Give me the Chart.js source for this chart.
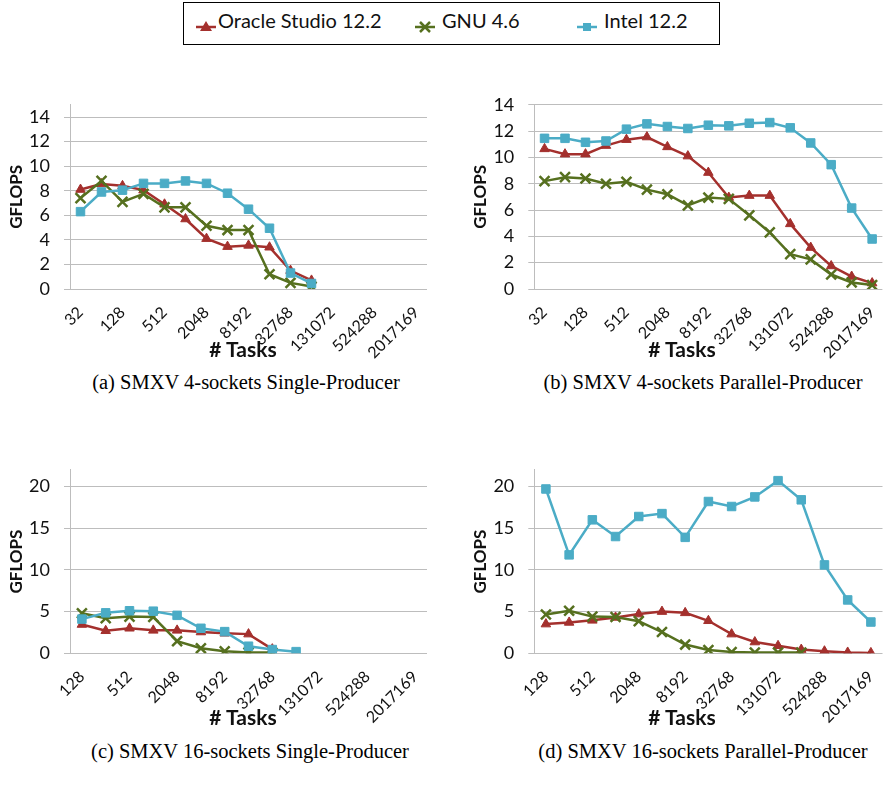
<!DOCTYPE html>
<html>
<head>
<meta charset="utf-8">
<script src="https://cdn.jsdelivr.net/npm/chart.js@4.4.1/dist/chart.umd.min.js"></script>
<style>
  html, body { margin: 0; padding: 0; background: #fff; }
  body { position: relative; width: 892px; height: 790px; overflow: hidden; font-family: Lato, sans-serif; }
  canvas { position: absolute; }
  .axt { position: absolute; font: bold 21px Lato, sans-serif; line-height: 24px; color: #111; transform: translateX(-50%); white-space: nowrap; }
  .cap { position: absolute; font: 20.5px "Liberation Serif", serif; line-height: 24px; color: #000; transform: translateX(-50%); white-space: nowrap; }
  #legend { position: absolute; left: 183px; top: 2px; width: 537px; height: 43px; box-sizing: border-box; border: 1.5px solid #000; }
  .li { position: absolute; top: 5px; height: 40px; line-height: 40px; font: 20px Lato, sans-serif; color: #111; white-space: nowrap; }
  .sw { position: absolute; top: 14px; }
</style>
</head>
<body>
<div id="legend">
  <svg class="sw" style="left:10px" width="24" height="20"><line x1="2" y1="10" x2="22" y2="10" stroke="#a4302d" stroke-width="2.5"/><polygon points="12,4 18,14 6,14" fill="#a4302d"/></svg>
  <div class="li" style="left:34px">Oracle Studio 12.2</div>
  <svg class="sw" style="left:229px" width="24" height="20"><line x1="2" y1="10" x2="22" y2="10" stroke="#56701f" stroke-width="2.5"/><line x1="7" y1="5" x2="17" y2="15" stroke="#56701f" stroke-width="2.5"/><line x1="17" y1="5" x2="7" y2="15" stroke="#56701f" stroke-width="2.5"/></svg>
  <div class="li" style="left:258px">GNU 4.6</div>
  <svg class="sw" style="left:391px" width="24" height="20"><line x1="2" y1="10" x2="22" y2="10" stroke="#4bacc6" stroke-width="2.5"/><rect x="8" y="6" width="8" height="8" fill="#4bacc6"/></svg>
  <div class="li" style="left:420px">Intel 12.2</div>
</div>

<canvas id="ca" width="440" height="280" style="left:0;top:80px"></canvas>
<canvas id="cb" width="452" height="280" style="left:440px;top:80px"></canvas>
<canvas id="cc" width="440" height="283" style="left:0;top:445px"></canvas>
<canvas id="cd" width="452" height="283" style="left:440px;top:445px"></canvas>

<div class="axt" style="left:243px;top:337px"># Tasks</div>
<div class="axt" style="left:682px;top:337px"># Tasks</div>
<div class="axt" style="left:243px;top:705px"># Tasks</div>
<div class="axt" style="left:682px;top:705px"># Tasks</div>

<div class="cap" style="left:246px;top:370px">(a) SMXV 4-sockets Single-Producer</div>
<div class="cap" style="left:703px;top:370px">(b) SMXV 4-sockets Parallel-Producer</div>
<div class="cap" style="left:250px;top:739px">(c) SMXV 16-sockets Single-Producer</div>
<div class="cap" style="left:703px;top:739px">(d) SMXV 16-sockets Parallel-Producer</div>

<script>
// Task counts on the x axis (4-socket runs start at 32, 16-socket runs at 128)
const tasks4 = ['32', '64', '128', '256', '512', '1024', '2048', '4096', '8192', '16384',
                '32768', '65536', '131072', '262144', '524288', '1048576', '2017169'];
const tasks16 = ['128', '256', '512', '1024', '2048', '4096', '8192', '16384',
                 '32768', '65536', '131072', '262144', '524288', '1048576', '2017169'];

// GFLOPS, 4 sockets, single producer
const a_oracle = [8.1, 8.55, 8.4, 8.05, 6.9, 5.7, 4.1, 3.45, 3.55, 3.4, 1.5, 0.7];
const a_gnu    = [7.4, 8.8, 7.1, 7.75, 6.65, 6.65, 5.15, 4.8, 4.8, 1.2, 0.5, 0.2];
const a_intel  = [6.3, 7.9, 8.05, 8.6, 8.6, 8.8, 8.6, 7.8, 6.5, 4.95, 1.3, 0.45];

// GFLOPS, 4 sockets, parallel producer
const b_oracle = [10.65, 10.25, 10.25, 10.9, 11.35, 11.55, 10.8, 10.1, 8.85, 6.95, 7.1, 7.1, 4.95, 3.15, 1.75, 0.95, 0.45];
const b_gnu    = [8.2, 8.5, 8.4, 8.0, 8.15, 7.55, 7.2, 6.35, 6.95, 6.85, 5.6, 4.3, 2.65, 2.25, 1.1, 0.5, 0.3];
const b_intel  = [11.45, 11.45, 11.15, 11.25, 12.15, 12.55, 12.35, 12.2, 12.45, 12.4, 12.6, 12.65, 12.25, 11.1, 9.45, 6.15, 3.8];

// GFLOPS, 16 sockets, single producer
const c_oracle = [3.45, 2.7, 3.0, 2.75, 2.75, 2.55, 2.4, 2.3, 0.5];
const c_gnu    = [4.8, 4.2, 4.4, 4.35, 1.45, 0.6, 0.25, 0.1, 0.1];
const c_intel  = [4.1, 4.85, 5.1, 5.05, 4.55, 3.0, 2.6, 0.85, 0.45, 0.2];

// GFLOPS, 16 sockets, parallel producer
const d_oracle = [3.5, 3.7, 3.95, 4.3, 4.7, 5.0, 4.85, 3.9, 2.3, 1.35, 0.9, 0.45, 0.25, 0.1, 0.05];
const d_gnu    = [4.65, 5.1, 4.4, 4.35, 3.85, 2.55, 1.05, 0.4, 0.15, 0.1, 0.1, 0.1];
const d_intel  = [19.7, 11.8, 16.0, 14.0, 16.4, 16.75, 13.9, 18.2, 17.6, 18.75, 20.7, 18.4, 10.6, 6.4, 3.75];

const RED = '#a4302d', GREEN = '#56701f', BLUE = '#4bacc6';
const GRID = '#bdbdbd', INK = '#111';

function series(oracle, gnu, intel) {
  return [
    { label: 'Oracle Studio 12.2', data: oracle, order: 3, borderColor: RED, backgroundColor: RED,
      borderWidth: 2.5, pointStyle: 'triangle', pointRadius: 5.5, pointBorderWidth: 1 },
    { label: 'GNU 4.6', data: gnu, order: 2, borderColor: GREEN, backgroundColor: GREEN,
      borderWidth: 2.5, pointStyle: 'crossRot', pointRadius: 7, pointBorderWidth: 2.5 },
    { label: 'Intel 12.2', data: intel, order: 1, borderColor: BLUE, backgroundColor: BLUE,
      borderWidth: 2.5, pointStyle: 'rect', pointRadius: 6, pointBorderWidth: 1 }
  ];
}

function panel(id, labels, datasets, yMax, yStep, L) {
  return new Chart(document.getElementById(id), {
    type: 'line',
    data: { labels: labels, datasets: datasets },
    options: {
      responsive: false,
      animation: false,
      events: [],
      elements: { line: { tension: 0 } },
      layout: { padding: { top: L.padTop, right: L.padRight, left: 0, bottom: 0 } },
      plugins: { legend: { display: false }, tooltip: { enabled: false } },
      scales: {
        x: {
          offset: true,
          grid: { display: false },
          border: { display: false },
          ticks: {
            autoSkip: false, minRotation: 45, maxRotation: 45, padding: 6,
            font: { family: 'Lato', size: 16 }, color: INK,
            callback: (v, i) => (i % 2 === 0 ? labels[i] : '')
          },
          afterFit: s => { s.height = L.xH; }
        },
        y: {
          min: 0, max: yMax,
          grid: { color: GRID, lineWidth: 1, tickLength: 6 },
          border: { color: GRID, width: 1 },
          ticks: { stepSize: yStep, padding: 14, font: { family: 'Lato', size: 18 }, color: INK },
          // gridlines only at whole multiples of the step, up to the top of the axis
          afterBuildTicks: s => {
            const t = [];
            for (let v = 0; v <= yMax + 1e-9; v += yStep) t.push({ value: v });
            s.ticks = t;
          },
          title: {
            display: true, text: 'GFLOPS', color: INK,
            font: { family: 'Lato', size: 17, weight: 'bold' },
            padding: { top: L.titlePad, bottom: 0 }
          },
          afterFit: s => { s.width = L.yW; }
        }
      }
    }
  });
}

panel('ca', tasks4, series(a_oracle, a_gnu, a_intel), 15, 2,
      { padTop: 17, padRight: 13, xH: 71, yW: 70, titlePad: 6 });
panel('cb', tasks4, series(b_oracle, b_gnu, b_intel), 14, 2,
      { padTop: 16.7, padRight: 1, xH: 71, yW: 94.3, titlePad: 30 });
panel('cc', tasks16, series(c_oracle, c_gnu, c_intel), 22, 5,
      { padTop: 16.7, padRight: 13, xH: 74.7, yW: 70, titlePad: 6 });
panel('cd', tasks16, series(d_oracle, d_gnu, d_intel), 22, 5,
      { padTop: 16.7, padRight: 1, xH: 74.7, yW: 94.3, titlePad: 30 });
</script>
</body>
</html>
